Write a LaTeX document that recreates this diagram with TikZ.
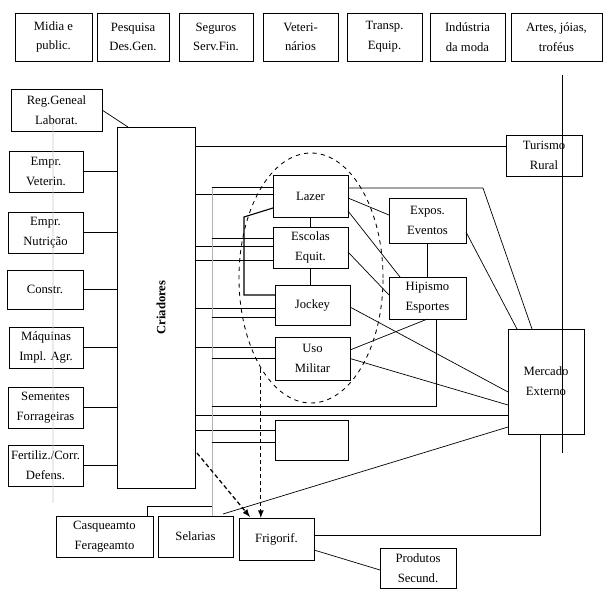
\documentclass[tikz,border=0pt]{standalone}
\usepackage{fontspec}
\setmainfont{Liberation Serif}
\usetikzlibrary{positioning}
\usetikzlibrary{arrows}
\usetikzlibrary{calc}
\usetikzlibrary{shapes.geometric}

\tikzset{
  caixa/.style={draw, line width=0.7pt, align=center, inner sep=0pt, outer sep=0pt,
    font=\fontsize{9}{14}\selectfont},
  liga/.style={line width=0.5pt},
  cinza/.style={line width=0.6pt, gray!60},
  seta/.style={densely dashed, line width=0.9pt, -latex},
  nuvem/.style={draw, dashed, line width=0.6pt, ellipse, inner sep=0pt}
}

\begin{document}
\begin{tikzpicture}[x=0.025cm, y=-0.025cm]
  % one unit is one pixel of the scanned page
  \def\px{0.025cm}
  \useasboundingbox (0,0) rectangle (606,589);

  % top row of services
  \foreach \nome/\xa/\xb/\txt in {midia/15/92/{Midia e\\public.}, pesq/97/169/{Pesquisa\\Des.Gen.},
      seg/179/253/{Seguros\\Serv.Fin.}, vet/263/338/{Veteri-\\nários}, transp/347/422/{Transp.\\Equip.},
      indus/430/505/{Indústria\\da moda}, artes/511/602/{Artes, jóias,\\troféus}}
    \node[caixa, minimum width={(\xb-\xa)*\px}, minimum height=48*\px] (\nome) at ({(\xa+\xb)/2},37) {\txt};

  % all the other boxes
  \foreach \nome/\xa/\ya/\xb/\yb/\txt in {reg/11/89/102/131/{Reg.Geneal\\Laborat.},
      empvet/9/151/83/192/{Empr.\\Veterin.}, empnut/8/212/83/253/{Empr.\\Nutrição},
      constr/7/270/83/309/{Constr.}, maq/9/327/83/368/{Máquinas\\Impl. Agr.},
      sem/8/387/83/428/{Sementes\\Forrageiras}, fert/8/445/83/486/{Fertiliz./Corr.\\Defens.},
      criad/117/127/195/488/{},
      lazer/273/175/348/217/{Lazer}, escolas/273/227/348/268/{Escolas\\Equit.},
      jockey/275/285/350/325/{Jockey}, uso/275/337/350/380/{Uso\\Militar},
      vazio/275/420/348/460/{}, expos/389/198/466/243/{Expos.\\Eventos},
      hipismo/389/277/466/319/{Hipismo\\Esportes}, turismo/506/135/582/176/{Turismo\\Rural},
      mercado/508/329/584/434/{Mercado\\Externo}, casq/56/516/153/557/{Casqueamto\\Ferageamto},
      selar/158/516/233/557/{Selarias}, frig/239/518/314/560/{Frigorif.},
      prod/380/548/456/588/{Produtos\\Secund.}}
    \node[caixa, minimum width={(\xb-\xa)*\px}, minimum height={(\yb-\ya)*\px}] (\nome) at ({(\xa+\xb)/2},{(\ya+\yb)/2}) {\txt};

  \node[rotate=90, font=\fontsize{9}{11}\selectfont\bfseries] (txtcriad) at ($(criad.center)+(5,0)$) {Criadores};

  % dashed cloud round the leisure activities
  \node[nuvem, minimum width=144*\px, minimum height=250*\px] (elipse) at (311,278) {};

  % faint scan line on the left
  \draw[gray!45, line width=0.5pt] ($(reg.south)+(-3.5,-8)$) -- ($(fert.south)+(7.5,17)$);

  % suppliers into Criadores
  \draw[liga] (reg.east) -- ($(criad.north west)+(11,0)$);
  \foreach \b in {empvet, empnut, constr, maq, sem, fert}
    \draw[liga] (\b.east) -- (criad.west |- \b.east);

  % points on the west sides of the middle boxes
  \foreach \nome/\alvo/\dy in {lz1/lazer/-9, lz2/lazer/-2, es1/escolas/-9.5, es2/escolas/-1.5,
      es3/escolas/12.5, jk1/jockey/3, jk2/jockey/12, jk3/jockey/-10, um1/uso/-11.5,
      um2/uso/-0.5, bx1/vazio/-10, bx2/vazio/2}
    \coordinate (\nome) at ($(\alvo.west)+(0,\dy)$);
  \coordinate (bustop) at ($(lz1)+(-61,0)$);
  \coordinate (tr1) at ($(turismo.west)+(0,-9.5)$);
  \coordinate (mx1) at ($(mercado.west)+(0,33.5)$);
  \coordinate (hp) at ($(hipismo.south)+(8.5,87)$);
  \coordinate (cq) at ($(casq.north)+(42.5,-10)$);
  \coordinate (brk) at (244,217);

  % Criadores to the right
  \foreach \c in {lz2, es2, es3, jk1, um1, bx1, tr1, mx1}
    \draw[liga] (criad.east |- \c) -- (\c);

  % grey bus from Selarias
  \draw[cinza] (bustop) -- (bustop |- selar.north);
  \foreach \c in {lz1, es1, jk2, um2, bx2}
    \draw[liga] (bustop |- \c) -- (\c);
  \draw[liga] (bustop |- hp) -- (hp) -- (hp |- hipismo.south);
  \draw[liga] (cq |- casq.north) -- (cq) -- (bustop |- cq);

  % inside the cloud
  \draw[line width=0.8pt] ($(lazer.west)+(0,12)$) -- (brk) |- (jk3);
  \draw[liga] (lazer.south) -- (escolas.north);
  \draw[liga] (escolas.south) -- (escolas.south |- jockey.north);

  % leisure to events and markets
  \draw[liga] ($(lazer.east)+(0,-8)$) -- ++(135,0) -- ($(mercado.north)+(-14,0)$);
  \draw[liga] ($(lazer.east)+(0,2)$) -- ($(expos.west)+(0,-5.5)$);
  \draw[liga] ($(lazer.east)+(0,15)$) -- ($(hipismo.north west)+(11,0)$);
  \draw[liga] ($(escolas.east)+(0,4.5)$) -- ($(hipismo.west)+(0,-3)$);
  \draw[liga] (expos.south) -- (expos.south |- hipismo.north);
  \draw[liga] ($(expos.east)+(0,11.5)$) -- ($(mercado.north)+(-29,0)$);
  \draw[liga] ($(jockey.east)+(0,2)$) -- ($(mercado.west)+(0,10.5)$);
  \draw[liga] ($(uso.east)+(0,-8.5)$) -- (hipismo.south);
  \draw[liga] (uso.east) -- ($(mercado.west)+(0,23.5)$);
  \draw[liga] ($(selar.north)+(27.5,-2)$) -- ($(mercado.west)+(0,45.5)$);
  \draw[liga] ($(turismo.north)+(18,-60)$) -- ($(mercado.south)+(16,19)$);

  % bottom row
  \draw[liga] ($(criad.south)+(-19,0)$) -- ($(criad.south)+(-19,0)$ |- casq.north);
  \draw[liga] ($(criad.south)+(21,0)$) -- ($(criad.south)+(21,0)$ |- selar.north);
  \draw[liga] ($(vazio.south)+(-19.5,0)$) -- ($(vazio.south)+(-19.5,0)$ |- frig.north);
  \draw[liga] ($(frig.east)+(0,-4)$) -| ($(mercado.south)+(-6,0)$);
  \draw[liga] ($(frig.east)+(0,11)$) -- ($(prod.west)+(0,2)$);

  % dashed arrows into Frigorif.
  \draw[seta] ($(criad.south east)+(2,-35)$) -- ($(frig.north west)+(11,-1)$);
  \draw[seta] (elipse.241) -- (elipse.241 |- frig.north);
\end{tikzpicture}
\end{document}
